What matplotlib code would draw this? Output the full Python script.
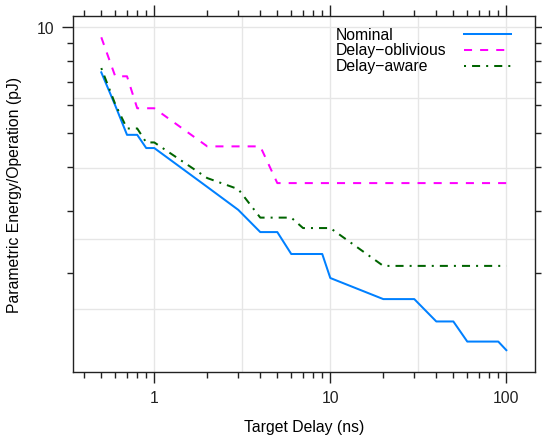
import numpy as np
import matplotlib
matplotlib.use('Agg')
import matplotlib.pyplot as plt
from matplotlib.ticker import FixedLocator, NullFormatter, FixedFormatter

plt.rcParams['font.family'] = ['Liberation Sans', 'DejaVu Sans']
plt.rcParams['font.size'] = 11.3

# target delay (ns)
delay = [0.5, 0.6, 0.7, 0.8, 0.9, 1, 2, 3, 4, 5, 6, 7, 8, 9, 10,
         20, 30, 40, 50, 60, 70, 80, 90, 100]

# parametric energy per operation (pJ)
nominal = [7.45, 6.0, 4.95, 4.95, 4.54, 4.54, 3.52, 3.03, 2.62, 2.62, 2.27, 2.27, 2.27, 2.27, 1.94,
           1.69, 1.69, 1.46, 1.46, 1.28, 1.28, 1.28, 1.28, 1.21]
oblivious = [9.37, 7.26, 7.26, 5.89, 5.89, 5.89, 4.59, 4.59, 4.59, 3.61, 3.61, 3.61, 3.61, 3.61, 3.61,
             3.61, 3.61, 3.61, 3.61, 3.61, 3.61, 3.61, 3.61, 3.61]
aware = [7.66, 6.05, 5.16, 5.16, 4.71, 4.71, 3.73, 3.47, 2.88, 2.88, 2.88, 2.69, 2.69, 2.69, 2.69,
         2.10, 2.10, 2.10, 2.10, 2.10, 2.10, 2.10, 2.10, 2.10]

labels = ['Nominal', 'Delay\u2212oblivious', 'Delay\u2212aware']
colors = ['#0080ff', '#ff00ff', '#006400']
dashes = [(None, None), (4, 4), (1, 3, 4, 3)]

W, H = 542, 439
fig = plt.figure(figsize=(W / 100, H / 100), dpi=100)
ax = fig.add_axes([72.7 / W, 1 - 372.7 / H, (535 - 72.7) / W, (372.7 - 17.3) / H])
ax.set_xscale('log')
ax.set_yscale('log')
ax.set_xlim(0.344, 145.5)
ax.set_ylim(1.051, 10.75)

# lattice style background grid
for k in range(-1, 6):
    ax.axvline(10 ** (k * 0.5), color='#e6e6e6', lw=1, zorder=0)
for k in range(0, 6):
    ax.axhline(10 ** (k * 0.2), color='#e6e6e6', lw=1, zorder=0)

lw = 1.45
series = [nominal, oblivious, aware]
for i, ys in enumerate(series):
    ln, = ax.plot(delay, ys, color=colors[i], lw=lw)
    if dashes[i][0] is not None:
        ln.set_dashes(dashes[i])

ax.xaxis.set_major_locator(FixedLocator([1, 10, 100]))
ax.xaxis.set_major_formatter(FixedFormatter(['1', '10', '100']))
xminor = [m * 10.0 ** e for e in (-1, 0, 1) for m in range(2, 10) if 0.344 < m * 10.0 ** e < 145]
ax.xaxis.set_minor_locator(FixedLocator(xminor))
ax.xaxis.set_minor_formatter(NullFormatter())
ax.yaxis.set_major_locator(FixedLocator([10]))
ax.yaxis.set_major_formatter(FixedFormatter(['10']))
ax.yaxis.set_minor_locator(FixedLocator(list(range(2, 10))))
ax.yaxis.set_minor_formatter(NullFormatter())

ax.tick_params(which='both', direction='out', top=True, right=True, width=1, colors='#222222')
ax.tick_params(which='major', length=8, pad=5.5)
ax.tick_params(which='minor', length=4.5)
for s in ax.spines.values():
    s.set_linewidth(1)
    s.set_color('#222222')

ax.set_xlabel('Target Delay (ns)', labelpad=10)
ax.set_ylabel('Parametric Energy/Operation (pJ)', labelpad=10)

# key, lattice style: text left, line sample on the right
key_y = [35, 51, 66.5]
for i, lab in enumerate(labels):
    yk = 1 - key_y[i] / H
    fig.text(336 / W, yk, lab, ha='left', va='center')
    ln, = ax.plot([464 / W, 510.7 / W], [yk, yk], color=colors[i], lw=lw,
                  transform=fig.transFigure, clip_on=False)
    if dashes[i][0] is not None:
        ln.set_dashes(dashes[i])

fig.savefig('out.png', dpi=100)
